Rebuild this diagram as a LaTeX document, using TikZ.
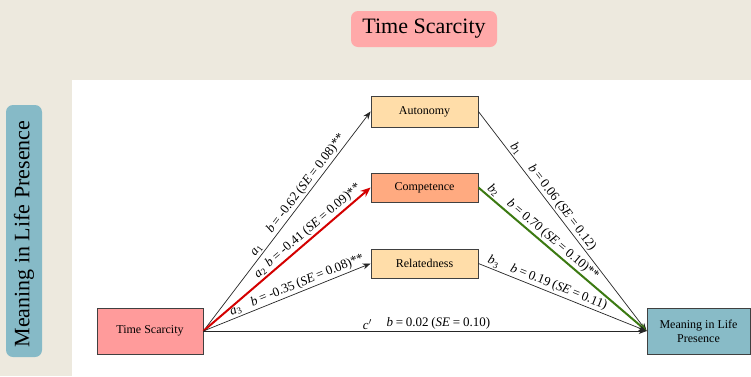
\documentclass[tikz,border=0pt]{standalone}
\usepackage{fontspec}
\setmainfont{Liberation Serif}
\newfontfamily\labfont[WordSpace=0.85]{Liberation Serif}
\usetikzlibrary{arrows.meta}
\definecolor{bgbeige}{HTML}{EDE9DE}
\definecolor{pillpink}{HTML}{FFA9A9}
\definecolor{pillblue}{HTML}{86BAC7}
\definecolor{tsfill}{HTML}{FF9B9B}
\definecolor{medfill}{HTML}{FFDDA9}
\definecolor{compfill}{HTML}{FFAA80}
\definecolor{mlpfill}{HTML}{88BBC7}
\definecolor{edgered}{HTML}{D40000}
\definecolor{edgegreen}{HTML}{3C7A12}
\definecolor{boxline}{HTML}{404040}
\begin{document}
\begin{tikzpicture}[x=1pt,y=-1pt,
  box/.style={draw=boxline,line width=0.8pt,inner sep=2pt,align=center,font=\fontsize{12}{14}\selectfont},
  pill/.style={rounded corners=7pt,inner sep=0pt,font=\fontsize{22}{26}\selectfont},
  conn/.style={draw=black!85,line width=0.7pt,-{Stealth[length=8pt,width=6pt]}},
  lab/.style={sloped,above,inner sep=1.5pt,font=\labfont\fontsize{13}{15}\selectfont}]
\useasboundingbox (0,0) rectangle (751,376);
\fill[bgbeige] (0,0) rectangle (751,376);
\fill[white] (72,80) rectangle (751,376);
\node[pill,fill=pillpink,minimum width=146pt,minimum height=36pt] (title) at (424,29) {Time Scarcity};
\node[pill,fill=pillblue,minimum width=36pt,minimum height=252pt] (side) at (24,231) {};
\node[rotate=90,font=\fontsize{22}{26}\selectfont,inner sep=0pt] (sidetext) at (24,234) {Meaning in Life Presence};
\node[box,fill=tsfill,minimum width=106pt,minimum height=46pt] (ts) at (150,331) {Time Scarcity};
\node[box,fill=medfill,minimum width=107pt,minimum height=31pt] (aut) at (424.5,111.5) {Autonomy};
\node[box,fill=compfill,minimum width=107pt,minimum height=29pt] (comp) at (424.5,187.5) {Competence};
\node[box,fill=medfill,minimum width=107pt,minimum height=29pt] (rel) at (424.5,263.5) {Relatedness};
\node[box,fill=mlpfill,minimum width=103pt,minimum height=46pt] (mlp) at (698.5,331) {Meaning in Life\\Presence};
% a paths
\draw[conn] (ts.east) -- (aut.west)
  node[lab,pos=0.35] {\textit{a}\textsubscript{1}}
  node[lab,pos=0.65] {\textit{b} = -0.62 (\textit{SE} = 0.08)**};
\draw[conn,draw=edgered,line width=2pt,-{Stealth[length=10pt,width=8pt]}] (ts.east) -- (comp.west)
  node[lab,pos=0.37,text=black] {\textit{a}\textsubscript{2}}
  node[lab,pos=0.69,text=black] {\textit{b} = -0.41 (\textit{SE} = 0.09)**};
\draw[conn] (ts.east) -- (rel.west)
  node[lab,pos=0.21] {\textit{a}\textsubscript{3}}
  node[lab,pos=0.64] {\textit{b} = -0.35 (\textit{SE} = 0.08)**};
% b paths
\draw[conn] (aut.east) -- (mlp.west)
  node[lab,pos=0.19] {\textit{b}\textsubscript{1}}
  node[lab,pos=0.46] {\textit{b} = 0.06 (\textit{SE} = 0.12)};
\draw[conn,draw=edgegreen,line width=2pt] (comp.east) -- (mlp.west)
  node[lab,pos=0.06,text=black] {\textit{b}\textsubscript{2}}
  node[lab,pos=0.41,text=black] {\textit{b} = 0.70 (\textit{SE} = 0.10)**};
\draw[conn] (rel.east) -- (mlp.west)
  node[lab,pos=0.075] {\textit{b}\textsubscript{3}}
  node[lab,pos=0.46] {\textit{b} = 0.19 (\textit{SE} = 0.11)};
% direct path
\draw[conn] (ts.east) -- (mlp.west)
  node[lab,pos=0.37] {\textit{c}$'$}
  node[lab,pos=0.53] {\textit{b} = 0.02 (\textit{SE} = 0.10)};
\end{tikzpicture}
\end{document}
